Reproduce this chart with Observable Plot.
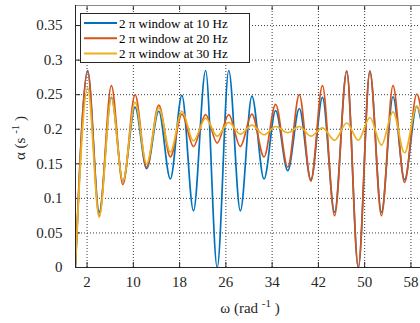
<!DOCTYPE html>
<html>
<head>
<meta charset="utf-8">
<script src="https://cdn.jsdelivr.net/npm/d3@7"></script>
<script src="https://cdn.jsdelivr.net/npm/@observablehq/plot@0.6"></script>
<style>
  html, body { margin: 0; padding: 0; background: #fff; }
  #chart { width: 420px; height: 323px; overflow: hidden; }
</style>
</head>
<body>
<div id="chart"></div>
<script>
// ---- data ----
const omega = [0, 2.1, 4.1, 6.2, 8.2, 10.3, 12.3, 14.4, 16.4, 18.4, 20.4, 22.5, 24.5, 26.5, 28.5, 30.5, 32.6, 34.6, 36.7, 38.7, 40.7, 42.7, 44.8, 46.9, 48.9, 50.9, 52.9, 54.9, 56.9, 59.0, 60];
const alpha10 = [0.0, 0.285, 0.08, 0.246, 0.125, 0.232, 0.143, 0.226, 0.128, 0.249, 0.082, 0.285, 0.0, 0.285, 0.082, 0.248, 0.128, 0.227, 0.14, 0.23, 0.127, 0.246, 0.08, 0.284, 0.0, 0.284, 0.08, 0.247, 0.127, 0.233, 0.2];
const alpha20 = [0.005, 0.283, 0.075, 0.263, 0.12, 0.25, 0.145, 0.235, 0.16, 0.222, 0.175, 0.221, 0.18, 0.221, 0.175, 0.222, 0.16, 0.236, 0.145, 0.25, 0.125, 0.263, 0.075, 0.284, 0.0, 0.284, 0.075, 0.263, 0.123, 0.251, 0.215];
const alpha30 = [0.005, 0.26, 0.073, 0.245, 0.125, 0.239, 0.15, 0.231, 0.167, 0.226, 0.183, 0.216, 0.19, 0.21, 0.193, 0.206, 0.192, 0.204, 0.195, 0.204, 0.19, 0.202, 0.184, 0.209, 0.184, 0.217, 0.177, 0.225, 0.166, 0.233, 0.21];
const seriesNames = ["2 π window at 10 Hz", "2 π window at 20 Hz", "2 π window at 30 Hz"];
const seriesColors = ["#0072BD", "#D95319", "#EDB120"];
const xTicks = [2, 10, 18, 26, 34, 42, 50, 58];
const yTicks = [0, 0.05, 0.1, 0.15, 0.2, 0.25, 0.3, 0.35];
const yTickLabels = ["0", "0.05", "0.1", "0.15", "0.2", "0.25", "0.3", "0.35"];

const font = "\"Liberation Serif\", \"Times New Roman\", \"DejaVu Serif\", serif";

const series = [alpha10, alpha20, alpha30];
const rows = series.map((s, k) => omega.map((w, i) => ({omega: w, alpha: s[i], k})));

const X0 = 0, X1 = 60, Y0 = 0, Y1 = 0.379;
const tickLenX = 5 / 5.783;
const tickLenY = 5 / 691;

const chart = Plot.plot({
  width: 420,
  height: 323,
  marginLeft: 75,
  marginTop: 5,
  marginBottom: 56,
  marginRight: 0,
  style: {fontFamily: font, fontSize: "15px", background: "#fff", color: "#262626", overflow: "hidden"},
  x: {domain: [X0, X1], range: [75, 422]},
  y: {domain: [Y0, Y1], range: [267, 5]},
  marks: [
    Plot.gridX(xTicks, {stroke: "#262626", strokeOpacity: 0.9, strokeDasharray: "1,2"}),
    Plot.gridY(yTicks.slice(1), {stroke: "#262626", strokeOpacity: 0.9, strokeDasharray: "1,2"}),
    Plot.ruleX(xTicks, {x: d => d, y1: Y0, y2: Y0 + tickLenY, stroke: "#262626"}),
    Plot.ruleX(xTicks, {x: d => d, y1: Y1, y2: Y1 - tickLenY, stroke: "#262626"}),
    Plot.ruleY(yTicks, {y: d => d, x1: X0, x2: X0 + tickLenX, stroke: "#262626"}),
    ...rows.map((r, k) => Plot.line(r, {x: "omega", y: "alpha", stroke: seriesColors[k], strokeWidth: 1.7, curve: "monotone-x", clip: true})),
    Plot.ruleY([Y1], {stroke: "#8a8a8a", strokeWidth: 1.2}),
    Plot.ruleX([X0], {stroke: "#262626"}),
    Plot.ruleY([Y0], {stroke: "#262626"}),
    Plot.axisX({ticks: xTicks, tickSize: 0, tickPadding: 9, label: null, anchor: "bottom", fontSize: 15}),
    Plot.axisY({ticks: yTicks, tickSize: 0, tickPadding: 13, label: null, anchor: "left", fontSize: 15,
      tickFormat: d => yTickLabels[yTicks.indexOf(d)]})
  ]
});

document.getElementById("chart").appendChild(chart);

const svg = d3.select(chart);
const lg = svg.append("g").attr("font-size", 13).attr("fill", "#000").attr("text-anchor", "start");
lg.append("rect").attr("x", 80.5).attr("y", 13.5).attr("width", 169).attr("height", 49)
  .attr("fill", "#fff").attr("stroke", "#262626").attr("stroke-width", 1);
seriesNames.forEach((name, i) => {
  const cy = 23 + i * 15.3;
  lg.append("line").attr("x1", 84).attr("x2", 117).attr("y1", cy).attr("y2", cy)
    .attr("stroke", seriesColors[i]).attr("stroke-width", 2);
  lg.append("text").attr("x", 119).attr("y", cy).attr("dy", "0.35em").text(name);
});

const yl = svg.append("text").attr("font-size", 15).attr("fill", "#262626")
  .attr("text-anchor", "middle").attr("transform", "translate(25,138) rotate(-90)");
yl.append("tspan").text("α (s ");
yl.append("tspan").attr("font-size", 11).attr("dy", -6).text("-1");
yl.append("tspan").attr("dy", 6).text(" )");

const xl = svg.append("text").attr("font-size", 15).attr("fill", "#262626")
  .attr("text-anchor", "middle").attr("x", 250).attr("y", 313);
xl.append("tspan").text("ω (rad ");
xl.append("tspan").attr("font-size", 11).attr("dy", -6).text("-1");
xl.append("tspan").attr("dy", 6).text(" )");
</script>
</body>
</html>
